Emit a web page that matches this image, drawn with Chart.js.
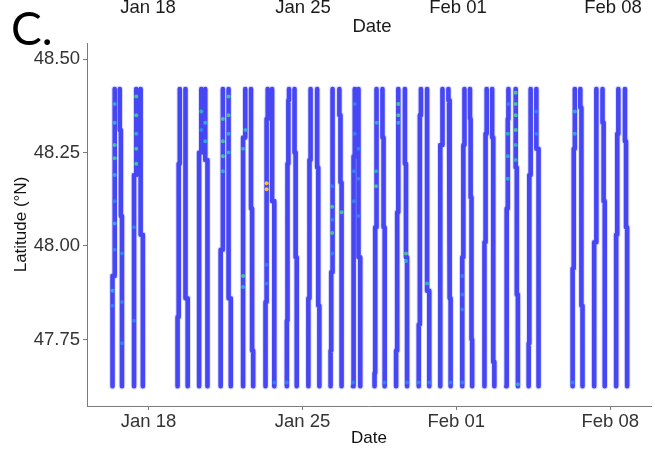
<!DOCTYPE html>
<html><head><meta charset="utf-8">
<script src="https://cdn.jsdelivr.net/npm/chart.js@4.4.1/dist/chart.umd.min.js"></script>
<style>
html,body{margin:0;padding:0;background:#fff;}
#wrap{position:relative;width:655px;height:450px;overflow:hidden;background:#fff;}
canvas{position:absolute;left:0;top:0;}
.t{position:absolute;font-family:"Liberation Sans",Arial,sans-serif;font-size:18.5px;line-height:18px;color:#1a1a1a;white-space:nowrap;transform:translateX(-50%);}
.big{position:absolute;left:11px;top:5px;font-family:Lato,"Open Sans",sans-serif;font-size:46px;line-height:46px;color:#000;}
</style></head><body>
<div id="wrap">
<canvas id="c" width="655" height="450"></canvas>
<div class="t" style="left:148px;top:-2px">Jan 18</div>
<div class="t" style="left:303px;top:-2px">Jan 25</div>
<div class="t" style="left:458px;top:-2px">Feb 01</div>
<div class="t" style="left:613px;top:-2px">Feb 08</div>
<div class="t" style="left:372px;top:17px">Date</div>
<div class="big">C.</div>
</div>
<script>
// ---- data (x in days since Dec 31; Jan 18 = 18, Feb 01 = 32) ----
const tickDays = [18, 25, 32, 39];
const tickLabels = ['Jan 18', 'Jan 25', 'Feb 01', 'Feb 08'];
const latTicks = [47.75, 48.00, 48.25, 48.50];
const latTop = 48.42;
const latBottom = 47.625;

// northbound leg of each daily transect: x of each segment (bottom->top) and latitudes where it steps
const northX = [
  [16.36, 16.46], [17.34, 17.44], [19.32, 19.37, 19.42], [20.30, 20.40], [21.28, 21.38],
  [22.30, 22.40], [23.32, 23.37, 23.42], [24.29, 24.32, 24.36, 24.39], [25.27, 25.32, 25.37],
  [26.28, 26.31, 26.35, 26.38], [27.30, 27.34, 27.38], [28.28, 28.31, 28.35, 28.38],
  [29.26, 29.31, 29.36], [30.29, 30.34, 30.39], [31.27, 31.37], [32.27, 32.32, 32.37],
  [33.28, 33.33, 33.38], [34.27, 34.30, 34.34, 34.37], [35.29, 35.32, 35.36, 35.39],
  [37.29, 37.34, 37.39], [38.27, 38.37], [39.27, 39.32, 39.37]
];
const northJogLat = [
  [47.92], [48.19], [47.81, 48.22], [48.25], [47.99],
  [48.29], [47.85, 48.34], [47.80, 48.22, 48.39], [47.86, 48.23],
  [47.72, 47.93, 48.26], [47.97, 48.24], [47.66, 48.05, 48.29],
  [47.72, 48.09], [47.79, 48.35], [48.27], [47.97, 48.27],
  [48.01, 48.30], [47.69, 48.10, 48.34], [47.74, 48.19, 48.38],
  [47.94, 48.26], [48.01], [48.03, 48.30]
];
// southbound leg: x of each segment (top->bottom) and latitudes where it steps
const southX = [
  [16.69, 16.74, 16.79], [17.64, 17.74], [19.68, 19.78], [20.58, 20.68], [21.64, 21.74],
  [22.66, 22.71, 22.76], [23.62, 23.72], [24.64, 24.69, 24.74], [25.67, 25.72, 25.77],
  [26.68, 26.73, 26.78], [27.55, 27.63], [28.64, 28.69, 28.74],
  [29.66, 29.71, 29.76], [30.67, 30.77], [31.64, 31.67, 31.71, 31.74], [32.62, 32.65, 32.69, 32.72],
  [33.63, 33.68, 33.73], [34.70, 34.75, 34.80], [35.64, 35.74],
  [37.64, 37.69, 37.74], [38.65, 38.70, 38.75], [39.67, 39.72, 39.77]
];
const southJogLat = [
  [48.31, 48.08], [48.03], [47.86], [48.23], [47.86],
  [48.10, 47.72], [48.12], [48.25, 47.97], [48.21, 47.84],
  [48.35, 48.17], [47.97], [48.29, 48.05],
  [48.22, 47.97], [47.88], [48.39, 48.22, 47.86], [48.34, 48.13, 47.75],
  [48.29, 47.69], [48.21, 47.87], [48.26],
  [48.37, 47.84], [48.33, 48.12], [48.28, 48.05]
];
// higher-value measurements along the track (level 1 light blue .. 4 yellow)
const hiDay = [
  16.46,16.46,16.46,16.46,16.46,16.46,16.46,16.46,16.36,16.36, 16.79,16.79,16.79,
  17.44,17.44,17.44,17.44,17.44,17.34,17.34,
  20.40,20.40,20.58,20.58,
  21.38,21.38,21.38,21.38,21.64,21.64,21.64,21.64,
  22.40,22.30,22.30,22.30,
  23.37,23.37,23.37,23.37,
  26.35,26.35,26.35,26.35,26.35,26.78,
  27.38,27.38,27.34,27.34,27.55,27.55,27.55,
  28.35,28.35,28.38,
  29.36,29.36,29.36,29.71,29.71,
  30.67, 32.27,32.27,32.27,
  34.70,34.70,34.70,34.70,34.70,34.70,34.34,34.34,34.34,34.37,
  35.64,35.64, 37.39,37.39,
  24.29,27.30,28.74,29.76,30.29,30.77,31.74,32.27,34.80,37.29,23.72
];
const hiLat = [
  48.38,48.33,48.27,48.235,48.19,48.12,48.06,47.99,47.88,47.84, 47.98,47.85,47.74,
  48.40,48.35,48.30,48.26,48.22,48.05,47.80,
  48.36,48.31,48.33,48.28,
  48.34,48.28,48.24,48.20,48.40,48.35,48.30,48.25,
  48.31,48.26,47.92,47.89,
  48.168,48.152,47.95,47.90,
  48.16,48.105,48.07,48.035,47.98,48.09,
  48.38,48.30,48.20,48.12,48.26,48.18,48.08,
  48.16,48.20,48.33,
  48.38,48.35,48.33,47.98,47.96,
  47.90, 47.92,47.87,47.83,
  48.41,48.38,48.35,48.31,48.27,48.23,48.30,48.24,48.18,48.38,
  48.36,48.30, 48.36,48.30,
  47.635,47.635,47.635,47.635,47.635,47.635,47.635,47.635,47.63,47.635,47.635
];
const hiLevel = [
  2,2,3,3,2,1,2,1,2,1, 1,1,1,
  3,3,2,3,3,1,1,
  2,1,2,2,
  3,3,3,2,3,3,2,2,
  2,2,3,2,
  4,4,1,1,
  1,3,1,3,1,3,
  1,1,1,1,1,1,1,
  3,2,2,
  3,3,2,3,2,
  2, 1,1,1,
  3,3,3,3,2,2,2,2,2,1,
  1,1, 2,2,
  1,1,1,1,1,1,1,1,2,1,1
];

// ---- build chart ----
const levelColors = ['rgb(70,70,245)', 'rgba(50,140,245,0.8)', 'rgba(50,190,210,0.8)', 'rgba(70,215,140,0.85)', 'rgb(255,195,20)'];
const track = [];
for (let p = 0; p < northX.length; p++) {
  const nx = northX[p], nj = northJogLat[p];
  track.push({x: nx[0], y: latBottom});
  nj.forEach((lat, i) => { track.push({x: nx[i], y: lat}); track.push({x: nx[i + 1], y: lat}); });
  track.push({x: nx[nx.length - 1], y: latTop});
  track.push({x: nx[nx.length - 1], y: null});
  const sx = southX[p], sj = southJogLat[p];
  track.push({x: sx[0], y: latTop});
  sj.forEach((lat, i) => { track.push({x: sx[i], y: lat}); track.push({x: sx[i + 1], y: lat}); });
  track.push({x: sx[sx.length - 1], y: latBottom});
  track.push({x: sx[sx.length - 1], y: null});
}
const hi = hiDay.map((d, i) => ({x: d, y: hiLat[i]}));

const axisColor = '#7a7a7a';
const tickFont = {family: '"Liberation Sans", Arial, sans-serif', size: 18.5};
const titleFont = {family: '"Liberation Sans", Arial, sans-serif', size: 17};

new Chart(document.getElementById('c'), {
  type: 'scatter',
  data: {datasets: [
    {data: track, showLine: true, spanGaps: false, borderColor: 'rgba(130,130,250,0.28)', borderWidth: 6.5,
     pointRadius: 0, borderCapStyle: 'round', borderJoinStyle: 'round', order: 3},
    {data: track, showLine: true, spanGaps: false, borderColor: levelColors[0], borderWidth: 4.6,
     pointRadius: 0, borderCapStyle: 'round', borderJoinStyle: 'round', order: 2},
    {data: hi, showLine: false, pointRadius: 2, borderWidth: 0,
     pointBackgroundColor: hiLevel.map(l => levelColors[l]), order: 1}
  ]},
  options: {
    responsive: false, animation: false, devicePixelRatio: 1,
    layout: {padding: {top: 43, right: 0, left: 0, bottom: 0}},
    plugins: {legend: {display: false}, tooltip: {enabled: false}},
    scales: {
      x: {
        type: 'linear', min: 15.20, max: 40.855,
        afterBuildTicks: s => { s.ticks = tickDays.map(v => ({value: v})); },
        afterFit: s => { s.height = 44; },
        ticks: {callback: (v) => tickLabels[tickDays.indexOf(v)] || '', color: '#333', font: tickFont, padding: 1, maxRotation: 0, autoSkip: false},
        grid: {display: true, drawOnChartArea: false, drawTicks: true, tickLength: 4, color: axisColor},
        border: {display: true, color: axisColor, width: 1},
        title: {display: true, text: 'Date', color: '#111', font: titleFont, padding: {top: 0, bottom: 1}}
      },
      y: {
        type: 'linear', min: 47.572, max: 48.543,
        afterBuildTicks: s => { s.ticks = latTicks.map(v => ({value: v})); },
        afterFit: s => { s.width = 87; },
        ticks: {callback: v => v.toFixed(2), color: '#333', font: tickFont, padding: 3},
        grid: {display: true, drawOnChartArea: false, drawTicks: true, tickLength: 4, color: axisColor},
        border: {display: true, color: axisColor, width: 1},
        title: {display: true, text: 'Latitude (°N)', color: '#111', font: titleFont, padding: {top: 11, bottom: 0}}
      }
    }
  }
});
</script>
</body></html>
